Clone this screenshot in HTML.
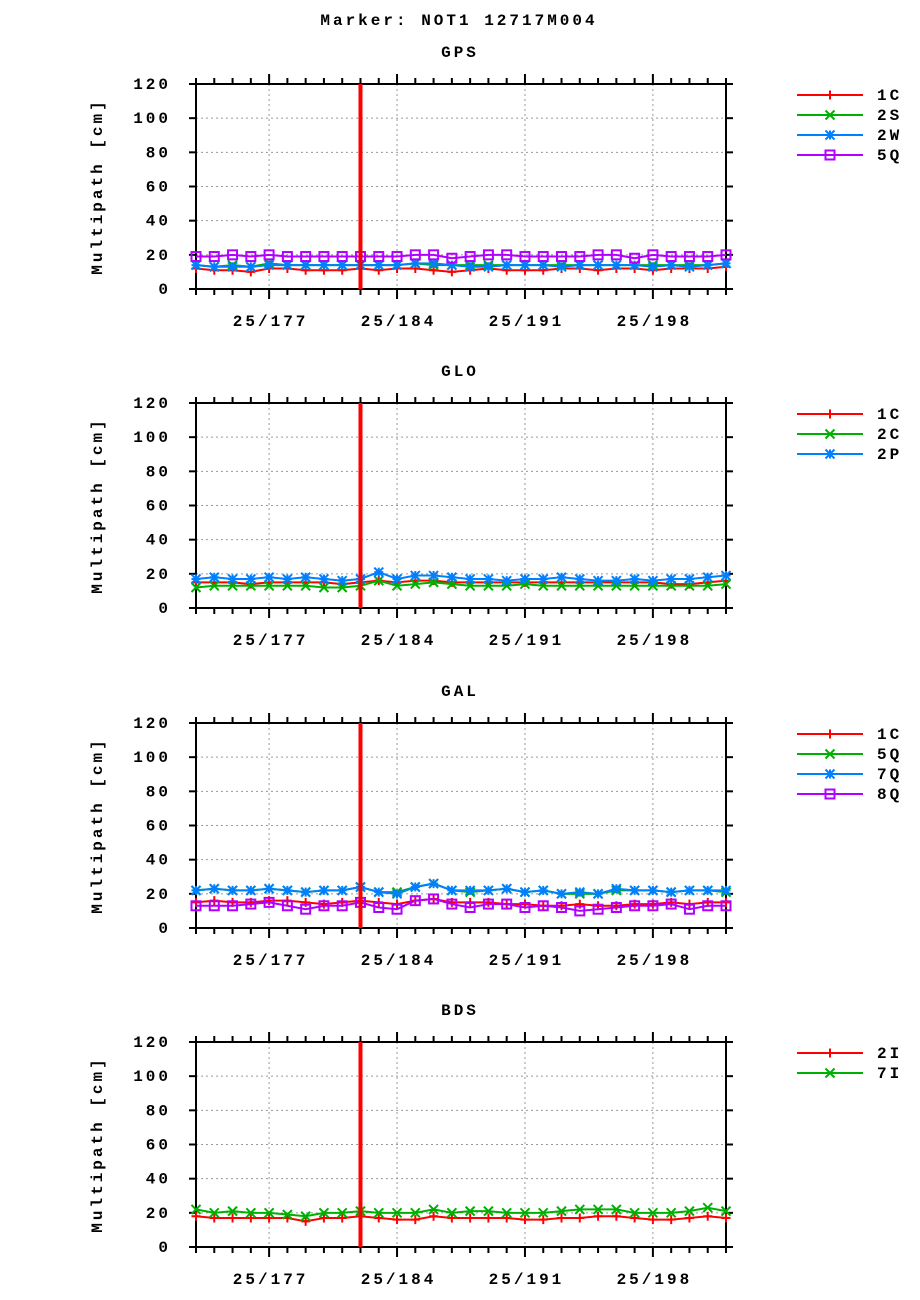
<!DOCTYPE html>
<html><head><meta charset="utf-8"><style>
html,body{margin:0;padding:0;background:#fff;}
svg{display:block;}
text{font-family:"Liberation Mono",monospace;font-weight:bold;fill:#000;letter-spacing:3px;}
</style></head><body>
<svg id="chart" width="920" height="1300" xmlns="http://www.w3.org/2000/svg">
<text x="459" y="25" font-size="16" text-anchor="middle">Marker: NOT1 12717M004</text>
</svg>
<script>
const days = [173,174,175,176,177,178,179,180,181,182,183,184,185,186,187,188,189,190,191,192,193,194,195,196,197,198,199,200,201,202];
const xTickLabels = ["25/177","25/184","25/191","25/198"];
const xTickDays = [177,184,191,198];
const yTicks = [0,20,40,60,80,100,120];
const eventDay = 182;

const gps1C = [12,11,11,10,12,12,11,11,11,12,11,12,12,11,10,11,12,11,11,11,12,12,11,12,12,11,12,12,12,13];
const gps2S = [14,13,14,13,15,14,14,14,14,14,14,14,15,14,14,14,14,14,14,14,14,14,14,14,14,14,14,14,14,15];
const gps2W = [14,13,13,13,14,14,14,14,14,14,14,14,15,15,14,13,13,14,14,14,13,14,14,14,14,13,14,13,14,15];
const gps5Q = [19,19,20,19,20,19,19,19,19,19,19,19,20,20,18,19,20,20,19,19,19,19,20,20,18,20,19,19,19,20];

const glo1C = [15,15,15,14,15,15,15,15,14,15,16,15,16,16,15,15,15,15,15,15,15,15,15,15,15,15,14,14,15,16];
const glo2C = [12,13,13,13,13,13,13,12,12,13,16,13,14,15,14,13,13,13,14,13,13,13,13,13,13,13,13,13,13,14];
const glo2P = [17,18,17,17,18,17,18,17,16,17,21,17,19,19,18,17,17,16,17,17,18,17,16,16,17,16,17,17,18,19];

const gal1C = [15,16,15,15,16,16,15,14,15,16,15,14,16,17,15,15,15,14,14,13,13,14,13,13,14,14,15,14,15,15];
const gal5Q = [22,23,22,22,23,22,21,22,22,24,21,21,24,26,22,21,22,23,21,22,20,20,20,22,22,22,21,22,22,21];
const gal7Q = [22,23,22,22,23,22,21,22,22,24,21,20,24,26,22,22,22,23,21,22,20,21,20,23,22,22,21,22,22,22];
const gal8Q = [13,13,13,14,15,13,11,13,13,15,12,11,16,17,14,12,14,14,12,13,12,10,11,12,13,13,14,11,13,13];

const bds2I = [18,17,17,17,17,17,15,17,17,18,17,16,16,18,17,17,17,17,16,16,17,17,18,18,17,16,16,17,18,17];
const bds7I = [22,20,21,20,20,19,18,20,20,21,20,20,20,22,20,21,21,20,20,20,21,22,22,22,20,20,20,21,23,21];

const panels = [
 {title:"GPS", top:84, series:[["1C",gps1C,"#ff0000","plus"],["2S",gps2S,"#00b000","cross"],["2W",gps2W,"#0080ff","star"],["5Q",gps5Q,"#b000ff","square"]]},
 {title:"GLO", top:403, series:[["1C",glo1C,"#ff0000","plus"],["2C",glo2C,"#00b000","cross"],["2P",glo2P,"#0080ff","star"]]},
 {title:"GAL", top:723, series:[["1C",gal1C,"#ff0000","plus"],["5Q",gal5Q,"#00b000","cross"],["7Q",gal7Q,"#0080ff","star"],["8Q",gal8Q,"#b000ff","square"]]},
 {title:"BDS", top:1042, series:[["2I",bds2I,"#ff0000","plus"],["7I",bds7I,"#00b000","cross"]]}
];

const svg = document.getElementById('chart');
const NS = "http://www.w3.org/2000/svg";
const X0 = 196, X1 = 726, H = 205, D0 = 173, D1 = 202, YMAX = 120;
function xs(d){ return X0 + (d - D0) / (D1 - D0) * (X1 - X0); }
function mk(tag, attrs, parent){ const e = document.createElementNS(NS, tag); for (const k in attrs) e.setAttribute(k, attrs[k]); (parent||svg).appendChild(e); return e; }

function marker(g, type, x, y, color){
  const s = 4.5;
  let d;
  if (type === "plus") d = `M${x-s},${y}H${x+s}M${x},${y-s}V${y+s}`;
  else if (type === "cross") d = `M${x-s},${y-s}L${x+s},${y+s}M${x-s},${y+s}L${x+s},${y-s}`;
  else if (type === "star") d = `M${x-s},${y}H${x+s}M${x},${y-s}V${y+s}M${x-s},${y-s}L${x+s},${y+s}M${x-s},${y+s}L${x+s},${y-s}`;
  if (type === "square") {
    const r = mk('rect', {x:x-4.5, y:y-4.5, width:9, height:9, fill:"none", stroke:color, "stroke-width":2}, g);
    
    
  } else {
    const p = mk('path', {d:d, stroke:color, "stroke-width":2, fill:"none"}, g);
    
    
  }
}

panels.forEach(function(p){
  const top = p.top, bot = top + H;
  const ys = v => bot - v / YMAX * H;
  const g = mk('g', {});
  
  
  const t = mk('text', {x:460, y:top-27, "font-size":16, "text-anchor":"middle"}, g);
  
  
  t.textContent = p.title;
  yTicks.forEach(function(v){
    if (v > 0 && v < YMAX) {
      const l = mk('line', {x1:X0, x2:X1, y1:ys(v), y2:ys(v), stroke:"#999", "stroke-width":1, "stroke-dasharray":"2,3"}, g);
      
      
    }
    const tk = mk('line', {x1:X0-7, x2:X0, y1:ys(v), y2:ys(v), stroke:"#000", "stroke-width":2}, g);
    
    
    const tk2 = mk('line', {x1:X1, x2:X1+7, y1:ys(v), y2:ys(v), stroke:"#000", "stroke-width":2}, g);
    
    
    const lb = mk('text', {x:171, y:ys(v)+5, "font-size":16, "text-anchor":"end"}, g);
    
    
    lb.textContent = v;
  });
  xTickDays.forEach(function(d, i){
    const l = mk('line', {x1:xs(d), x2:xs(d), y1:top, y2:bot, stroke:"#999", "stroke-width":1, "stroke-dasharray":"2,3"}, g);
    
    
    const lb = mk('text', {x:xs(d)+1.5, y:bot+37, "font-size":16, "text-anchor":"middle"}, g);
    
    
    lb.textContent = xTickLabels[i];
  });
  days.forEach(function(d){
    const major = xTickDays.indexOf(d) >= 0;
    const len = major ? 10 : 6;
    const a = mk('line', {x1:xs(d), x2:xs(d), y1:bot, y2:bot+len, stroke:"#000", "stroke-width":2}, g);
    
    
    const b = mk('line', {x1:xs(d), x2:xs(d), y1:top-len, y2:top, stroke:"#000", "stroke-width":2}, g);
    
    
  });
  const fr = mk('rect', {x:X0, y:top, width:X1-X0, height:H, fill:"none", stroke:"#000", "stroke-width":2}, g);
  
  
  const yt = mk('text', {x:0, y:0, "font-size":16, "text-anchor":"middle", transform:`translate(102,${top+H/2}) rotate(-90)`}, g);
  
  
  yt.textContent = "Multipath [cm]";
  p.series.forEach(function(s, si){
    const sg = mk('g', {}, g);
    
    
    const pts = s[1].map((v, i) => xs(days[i]) + "," + ys(v)).join(" ");
    const pl = mk('polyline', {points:pts, fill:"none", stroke:s[2], "stroke-width":2}, sg);
    
    
    s[1].forEach((v, i) => marker(sg, s[3], xs(days[i]), ys(v), s[2]));
    const ly = top + 11 + si * 20;
    const lg = mk('g', {}, g);
    
    
    mk('line', {x1:797, x2:863, y1:ly, y2:ly, stroke:s[2], "stroke-width":2}, lg);
    marker(lg, s[3], 830, ly, s[2]);
    const lt = mk('text', {x:877, y:ly+5, "font-size":16}, lg);
    
    
    lt.textContent = s[0];
  });
  const ev = mk('line', {x1:xs(eventDay), x2:xs(eventDay), y1:top, y2:bot, stroke:"#ff0000", "stroke-width":4}, g);
  
  
});
</script>
</body></html>
